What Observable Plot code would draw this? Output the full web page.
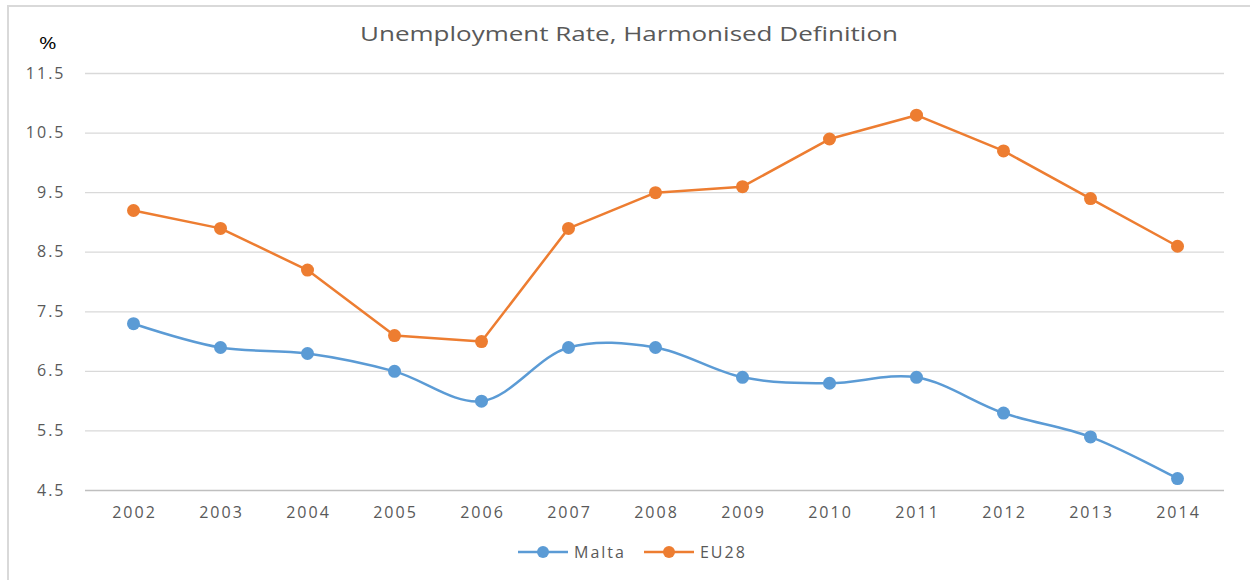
<!DOCTYPE html>
<html>
<head>
<meta charset="utf-8">
<script src="https://cdn.jsdelivr.net/npm/d3@7"></script>
<script src="https://cdn.jsdelivr.net/npm/@observablehq/plot@0.6"></script>
<style>
  html, body { margin: 0; padding: 0; background: #fff; }
  #wrap { position: relative; width: 1250px; height: 580px; overflow: hidden; font-family: "Open Sans", "Noto Sans", sans-serif; color: #595959; }
  #frame { position: absolute; left: 7px; top: 5px; width: 1260px; height: 600px; border-left: 2px solid #d9d9d9; border-top: 2px solid #d9d9d9; box-sizing: border-box; }
  #title { position: absolute; left: 0; width: 1258px; top: 20px; text-align: center; font-size: 20px; color: #595959; transform: scaleX(1.3); transform-origin: 629px 0; }
  #unit { position: absolute; left: 39px; top: 31px; font-size: 17px; color: #000; transform: scaleX(1.25); transform-origin: 0 0; }
  #legend { position: absolute; top: 541px; left: 518px; display: flex; align-items: center; font-size: 16px; letter-spacing: 2px; color: #595959; }
  .item { display: flex; align-items: center; margin-right: 18px; }
  .item svg { margin-right: 6px; }
  #chart { position: absolute; left: 0; top: 0; }
</style>
</head>
<body>
<div id="wrap">
  <div id="frame"></div>
  <div id="chart"></div>
  <div id="title">Unemployment Rate, Harmonised Definition</div>
  <div id="unit">%</div>
  <div id="legend"></div>
</div>
<script>
const years = ["2002","2003","2004","2005","2006","2007","2008","2009","2010","2011","2012","2013","2014"];
const malta = [7.3, 6.9, 6.8, 6.5, 6.0, 6.9, 6.9, 6.4, 6.3, 6.4, 5.8, 5.4, 4.7];
const eu28  = [9.2, 8.9, 8.2, 7.1, 7.0, 8.9, 9.5, 9.6, 10.4, 10.8, 10.2, 9.4, 8.6];
const yTicks = [4.5, 5.5, 6.5, 7.5, 8.5, 9.5, 10.5, 11.5];
const seriesNames = ["Malta", "EU28"];
const seriesColors = ["#5B9BD5", "#ED7D31"];

const maltaData = years.map((y, i) => ({year: y, value: malta[i]}));
const euData = years.map((y, i) => ({year: y, value: eu28[i]}));

const chart = Plot.plot({
  width: 1250,
  height: 580,
  marginLeft: 85,
  marginRight: 26,
  marginTop: 73,
  marginBottom: 90,
  style: {fontFamily: "'Open Sans', 'Noto Sans', sans-serif", fontSize: "16px", letterSpacing: "2px", color: "#595959", background: "transparent", overflow: "visible"},
  x: {type: "point", domain: years, padding: 0.5, label: null},
  y: {domain: [4.5, 11.5], ticks: yTicks, label: null},
  marks: [
    Plot.ruleY(yTicks.filter(t => t !== 4.5), {stroke: "#d9d9d9", strokeWidth: 1.3}),
    Plot.ruleY([4.5], {stroke: "#bfbfbf", strokeWidth: 1.5}),
    Plot.axisY({ticks: yTicks, tickSize: 0, tickPadding: 20, tickFormat: d => d.toFixed(1), fill: "#595959", fontSize: 16, label: null}),
    Plot.axisX({tickSize: 0, tickPadding: 16, dx: 1, fill: "#595959", fontSize: 16, label: null}),
    Plot.line(maltaData, {x: "year", y: "value", stroke: seriesColors[0], strokeWidth: 2.5, curve: "catmull-rom"}),
    Plot.line(euData, {x: "year", y: "value", stroke: seriesColors[1], strokeWidth: 2.5}),
    Plot.dot(maltaData, {x: "year", y: "value", fill: seriesColors[0], r: 6.5}),
    Plot.dot(euData, {x: "year", y: "value", fill: seriesColors[1], r: 6.5})
  ]
});
document.getElementById("chart").appendChild(chart);

const legend = document.getElementById("legend");
seriesNames.forEach((name, i) => {
  const item = document.createElement("div");
  item.className = "item";
  item.innerHTML = `<svg width="50" height="14"><line x1="0" y1="7" x2="50" y2="7" stroke="${seriesColors[i]}" stroke-width="2.5"/><circle cx="25" cy="7" r="6" fill="${seriesColors[i]}"/></svg><span>${name}</span>`;
  legend.appendChild(item);
});
</script>
</body>
</html>
